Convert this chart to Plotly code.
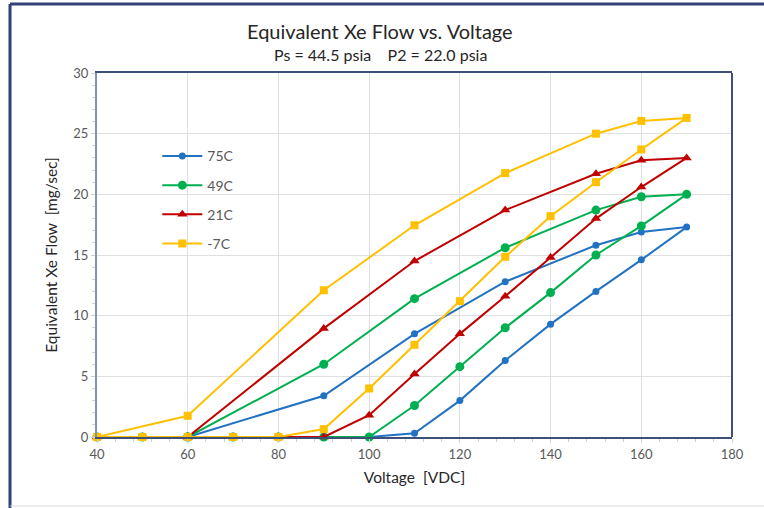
import plotly.graph_objects as go

series_names = ["75C", "49C", "21C", "-7C"]

volt_75 = [40, 50, 60, 70, 80, 90, 100, 110, 120, 130, 140, 150, 160, 170, 160, 150, 130, 110, 90, 60]
flow_75 = [0, 0, 0, 0, 0, 0, 0, 0.3, 3.0, 6.3, 9.3, 12.0, 14.6, 17.3, 16.9, 15.8, 12.8, 8.5, 3.4, 0]

volt_49 = [40, 50, 60, 70, 80, 90, 100, 110, 120, 130, 140, 150, 160, 170, 160, 150, 130, 110, 90, 60]
flow_49 = [0, 0, 0, 0, 0, 0, 0, 2.6, 5.8, 9.0, 11.9, 15.0, 17.4, 20.0, 19.8, 18.7, 15.6, 11.4, 6.0, 0]

volt_21 = [40, 50, 60, 70, 80, 90, 100, 110, 120, 130, 140, 150, 160, 170, 160, 150, 130, 110, 90, 60]
flow_21 = [0, 0, 0, 0, 0, 0, 1.8, 5.2, 8.5, 11.6, 14.8, 18.0, 20.6, 23.0, 22.8, 21.7, 18.7, 14.5, 8.95, 0]

volt_m7 = [40, 50, 60, 70, 80, 90, 100, 110, 120, 130, 140, 150, 160, 170, 160, 150, 130, 110, 90, 60, 40]
flow_m7 = [0, 0, 0, 0, 0, 0.65, 4.0, 7.6, 11.2, 14.85, 18.2, 21.0, 23.7, 26.3, 26.05, 25.0, 21.75, 17.45, 12.1, 1.75, 0]

x_ticks = [40, 60, 80, 100, 120, 140, 160, 180]
y_ticks = [0, 5, 10, 15, 20, 25, 30]

colors = ["#2272c3", "#00b050", "#c00000", "#ffc000"]
symbols = ["circle", "circle", "triangle-up", "square"]
msizes = [7, 9, 9, 8]
xs = [volt_75, volt_49, volt_21, volt_m7]
ys = [flow_75, flow_49, flow_21, flow_m7]

FONT = "Lato"

fig = go.Figure()
for name, x, y, c, s, ms in zip(series_names, xs, ys, colors, symbols, msizes):
    fig.add_trace(go.Scatter(
        x=x, y=y, name=name, mode="lines+markers", legendgroup=name,
        line=dict(color=c, width=2),
        marker=dict(color=c, symbol=s, size=ms),
        cliponaxis=False,
    ))

fig.update_layout(
    width=764, height=508,
    margin=dict(l=97, r=32, t=73, b=71),
    paper_bgcolor="white", plot_bgcolor="white",
    font=dict(family=FONT, color="#595959", size=13),
    showlegend=True,
    legend=dict(x=0.095, y=0.815, xanchor="left", yanchor="top",
                bgcolor="rgba(0,0,0,0)", font=dict(size=14, color="#595959"),
                tracegroupgap=8, itemwidth=40),
    xaxis=dict(range=[40, 180], tickvals=x_ticks, ticktext=[str(v) for v in x_ticks],
               showgrid=True, gridcolor="#e0e0e0", gridwidth=1,
               showline=True, linecolor="#3f5078", linewidth=2, mirror=True,
               ticks="outside", ticklen=4, tickcolor="#d0d0d0",
               minor=dict(dtick=4, tick0=40, ticks="outside", ticklen=3, tickcolor="#d0d0d0", showgrid=False),
               zeroline=False,
               title=dict(text="Voltage  [VDC]", font=dict(size=15.5, color="#262626"), standoff=12),
               tickfont=dict(size=13, color="#595959")),
    yaxis=dict(range=[0, 30], tickvals=y_ticks, ticktext=[str(v) for v in y_ticks],
               showgrid=True, gridcolor="#e0e0e0", gridwidth=1,
               showline=True, linecolor="#8094b4", linewidth=2,
               ticks="outside", ticklen=4, tickcolor="#d0d0d0",
               minor=dict(dtick=1, ticks="outside", ticklen=3, tickcolor="#d0d0d0", showgrid=False),
               zeroline=False,
               title=dict(text="Equivalent Xe Flow  [mg/sec]", font=dict(size=15.5, color="#262626"), standoff=12),
               tickfont=dict(size=13, color="#595959")),
    annotations=[
        dict(text="Equivalent Xe Flow vs. Voltage", xref="paper", yref="paper",
             x=(380 - 97) / 635, y=(437 - 31) / 364, xanchor="center", yanchor="middle",
             showarrow=False, font=dict(size=20, color="#262626", family=FONT)),
        dict(text="Ps = 44.5 psia    P2 = 22.0 psia", xref="paper", yref="paper",
             x=(380 - 97) / 635, y=(437 - 55) / 364, xanchor="center", yanchor="middle",
             showarrow=False, font=dict(size=16, color="#262626", family=FONT)),
    ],
    shapes=[
        dict(type="line", xref="paper", yref="paper", x0=1, x1=1, y0=0, y1=1,
             line=dict(color="#3f5078", width=2)),
        dict(type="line", xref="paper", yref="paper", x0=(10 - 97) / 635, x1=(10 - 97) / 635,
             y0=(437 - 508) / 364, y1=(437 - 4) / 364, line=dict(color="#2f4273", width=3)),
        dict(type="line", xref="paper", yref="paper", x0=(10 - 97) / 635, x1=(764 - 97) / 635,
             y0=(437 - 4) / 364, y1=(437 - 4) / 364, line=dict(color="#2f4273", width=3)),
        dict(type="line", xref="paper", yref="paper", x0=(10 - 97) / 635, x1=(764 - 97) / 635,
             y0=(437 - 506) / 364, y1=(437 - 506) / 364, line=dict(color="#d9d9d9", width=1)),
    ],
)

fig.write_html("out.html")
